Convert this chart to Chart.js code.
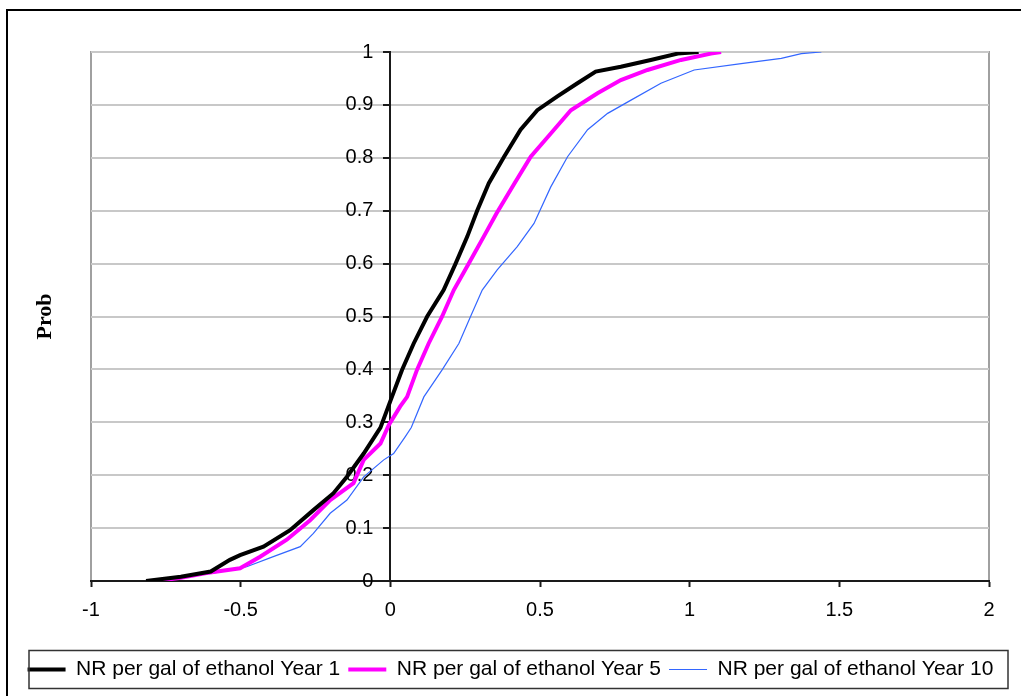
<!DOCTYPE html>
<html>
<head>
<meta charset="utf-8">
<script src="https://cdn.jsdelivr.net/npm/chart.js@4/dist/chart.umd.min.js"></script>
<style>
html,body{margin:0;padding:0;background:#fff;overflow:hidden}
#wrap{position:relative;width:1021px;height:696px}
#frame{position:absolute;left:6px;top:9px;width:1100px;height:800px;border:2px solid #000;pointer-events:none}
canvas{position:absolute;left:0;top:0}
</style>
</head>
<body>
<div id="wrap">
<canvas id="cdfChart" width="1021" height="696"></canvas>
<div id="frame"></div>
</div>
<script>
const FONT = "'Liberation Sans', Arial, sans-serif";

// series names
const seriesNames = [
"NR per gal of ethanol Year 1",
"NR per gal of ethanol Year 5",
"NR per gal of ethanol Year 10"
];

// Year 1 (black) - net return value vs cumulative probability
const year1Nr = [-0.816,-0.7,-0.6,-0.536,-0.502,-0.424,-0.335,-0.257,-0.19,-0.145,-0.089,-0.033,0.0,0.039,0.078,0.123,0.178,0.218,0.257,0.29,0.329,0.38,0.435,0.491,0.558,0.625,0.686,0.77,0.87,0.96,1.03];
const year1Prob = [0,0.008,0.018,0.04,0.049,0.065,0.096,0.134,0.166,0.197,0.241,0.29,0.34,0.399,0.449,0.5,0.55,0.6,0.651,0.7,0.752,0.802,0.853,0.89,0.916,0.941,0.963,0.972,0.985,0.997,1];

// Year 5 (magenta)
const year5Nr = [-0.78,-0.7,-0.614,-0.502,-0.435,-0.346,-0.268,-0.201,-0.123,-0.089,-0.033,-0.005,0.033,0.056,0.089,0.128,0.173,0.212,0.262,0.312,0.355,0.415,0.469,0.536,0.603,0.692,0.77,0.859,0.971,1.071,1.105];
const year5Prob = [0,0.006,0.015,0.024,0.046,0.078,0.115,0.153,0.185,0.229,0.26,0.295,0.33,0.348,0.399,0.449,0.5,0.55,0.6,0.651,0.695,0.752,0.802,0.846,0.89,0.922,0.947,0.966,0.985,0.997,1];

// Year 10 (blue)
const year10Nr = [-0.816,-0.592,-0.48,-0.391,-0.301,-0.257,-0.201,-0.145,-0.089,-0.022,0.011,0.05,0.07,0.112,0.173,0.229,0.268,0.307,0.357,0.424,0.48,0.536,0.592,0.659,0.726,0.804,0.904,1.015,1.172,1.306,1.373,1.44];
const year10Prob = [0,0.015,0.027,0.046,0.065,0.09,0.128,0.153,0.197,0.229,0.241,0.273,0.29,0.348,0.399,0.449,0.5,0.55,0.588,0.632,0.676,0.745,0.802,0.853,0.884,0.909,0.941,0.966,0.978,0.988,0.997,1];

// axis ticks
const xTicks = [-1,-0.5,0,0.5,1,1.5,2];
const yTicks = [0,0.1,0.2,0.3,0.4,0.5,0.6,0.7,0.8,0.9,1];

function pts(xs, ps){
return xs.map((v,i) => ({x:v, y:ps[i]}))
}

// white background, gray plot frame, legend box
const framePlugin = {
id:"framePlugin",
beforeDraw(chart){
const c = chart.ctx, a = chart.chartArea;
c.save();
c.fillStyle = "#fff";
c.fillRect(0,0,chart.width,chart.height);
c.strokeStyle = "#a0a0a0";
c.lineWidth = 2;
c.strokeRect(a.left, a.top, a.right-a.left, a.bottom-a.top);
c.restore();

// y labels of a crossing axis sit on the line, push them left of the ticks
const ys = chart.scales.y;
ys.getLabelItems(a).forEach(it => {
if(!it._moved){ it.options.translation[0] -= 17; it._moved = true }
});
},
afterDraw(chart){
const c = chart.ctx, lg = chart.legend;
const cy = lg.top + 8 + 10.5;
c.save();
c.strokeStyle = "#333";
c.lineWidth = 1.5;
c.strokeRect(29, cy-19, 979, 38);
c.restore();
}
};

const ctx = document.getElementById("cdfChart");

new Chart(ctx,{
type:"line",
data:{
datasets:[
{
label:seriesNames[0],
data:pts(year1Nr,year1Prob),
borderColor:"#000000",
borderWidth:4,
pointRadius:0,
tension:0,
fill:false
},
{
label:seriesNames[1],
data:pts(year5Nr,year5Prob),
borderColor:"#ff00ff",
borderWidth:4,
pointRadius:0,
tension:0,
fill:false
},
{
label:seriesNames[2],
data:pts(year10Nr,year10Prob),
borderColor:"#3366ff",
borderWidth:1.2,
pointRadius:0,
tension:0,
fill:false
}
]
},
options:{
responsive:false,
animation:false,
devicePixelRatio:1,
layout:{padding:{top:52,bottom:6,left:0,right:0}},
plugins:{
tooltip:{enabled:false},
legend:{
position:"bottom",
labels:{
usePointStyle:true,
pointStyle:"line",
pointStyleWidth:38,
padding:8,
color:"#000",
font:{size:21,family:FONT}
}
}
},
scales:{
x:{
type:"linear",
position:"bottom",
min:-1,
max:2,
afterBuildTicks(s){ s.ticks = xTicks.map(v => ({value:v})) },
afterFit(s){ s.height = 70 },
ticks:{
color:"#000",
padding:11,
font:{size:20,family:FONT},
callback:v => String(v)
},
grid:{drawOnChartArea:false, tickLength:6, tickColor:"#1a1a1a", tickWidth:2},
border:{color:"#1a1a1a", width:2}
},
y:{
type:"linear",
position:{x:0},
min:0,
max:1,
afterBuildTicks(s){ s.ticks = yTicks.map(v => ({value:v})) },
ticks:{
color:"#000",
padding:10,
font:{size:20,family:FONT},
callback:v => String(Math.round(v*10)/10)
},
grid:{color:"#c8c8c8", lineWidth:2, tickLength:6, tickColor:"#1a1a1a", tickWidth:2},
border:{color:"#1a1a1a", width:2}
},
yLeft:{
type:"linear",
position:"left",
min:0,
max:1,
afterFit(s){ s.width = 91 },
ticks:{display:false},
grid:{display:false},
border:{display:false},
title:{
display:true,
text:"Prob",
color:"#000",
padding:{top:32,bottom:0},
font:{size:22,weight:"bold",family:"'Liberation Serif', 'Times New Roman', serif"}
}
},
yRight:{
type:"linear",
position:"right",
min:0,
max:1,
afterFit(s){ s.width = 32 },
ticks:{display:false},
grid:{display:false},
border:{display:false}
}
}
},
plugins:[framePlugin]
})
</script>
</body>
</html>
